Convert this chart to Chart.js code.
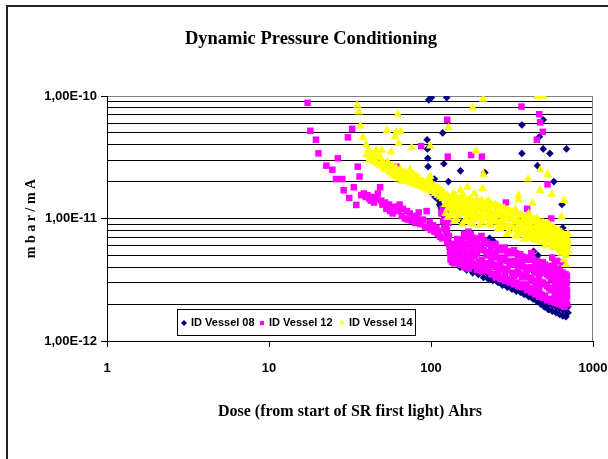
<!DOCTYPE html>
<html lang="en">
<head>
<meta charset="UTF-8" />
<title>Dynamic Pressure Conditioning</title>
<script src="https://cdn.jsdelivr.net/npm/chart.js"></script>
<style>
  html, body { margin: 0; padding: 0; background: #fff; }
  #wrap { position: relative; width: 608px; height: 459px; }
</style>
</head>
<body>
<div id="wrap"><canvas id="chart" width="608" height="459"></canvas></div>
<script>
// tick values and labels
const xTicks = [1, 10, 100, 1000];
const xTickLabels = ["1", "10", "100", "1000"];
const yTicks = [
  1e-12, 2e-12, 3e-12, 4e-12, 5e-12, 6e-12, 7e-12, 8e-12, 9e-12,
  1e-11, 2e-11, 3e-11, 4e-11, 5e-11, 6e-11, 7e-11, 8e-11, 9e-11,
  1e-10
];
const yMajor = [1e-12, 1e-11, 1e-10];
const yMajorLabels = ["1,00E-12", "1,00E-11", "1,00E-10"];

const seriesNames = ["ID Vessel 08", "ID Vessel 12", "ID Vessel 14"];

// [dose Ahrs, mbar/mA]
const vessel08 = [
  [96.8, 9.3e-11], [100.5, 9.7e-11], [125, 9.7e-11], [94.6, 4.4e-11], [95, 3.7e-11],
  [95.5, 3.1e-11], [96, 2.65e-11], [118, 5.0e-11], [105, 2.1e-11], [120, 2.8e-11],
  [152, 2.45e-11], [128, 2.0e-11], [215, 2.37e-11], [364, 5.8e-11], [364, 3.4e-11],
  [454, 2.7e-11], [467, 4.65e-11], [493, 6.4e-11], [493, 3.7e-11], [542, 3.4e-11],
  [686, 3.7e-11], [573, 2.0e-11], [643, 1.3e-11], [650, 8.4e-12], [397, 1.02e-11],
  [241, 6.6e-12], [155, 9.3e-12], [457, 5.0e-12], [230, 6.9e-12], [430, 5.4e-12],
  [420, 3.8e-12], [140, 5.5e-12], [175, 7.7e-12],
  [102, 1.6e-11], [104, 1.75e-11], [106, 1.5e-11], [108, 1.7e-11], [110, 1.5e-11],
  [112, 1.4e-11], [113, 1.3e-11], [115, 1.25e-11], [116, 1.2e-11], [117, 1.15e-11],
  [118, 1.1e-11], [120, 1.05e-11], [121, 1.0e-11], [122, 9.2e-12], [123, 8.5e-12],
  [124, 7.8e-12], [125, 7.2e-12], [127, 6.6e-12], [129, 6.0e-12], [131, 5.6e-12],
  [134, 5.2e-12], [137, 5.0e-12], [142, 4.8e-12], [148, 4.6e-12],
  [150, 4.3e-12], [151, 4.0e-12], [165, 4.1e-12], [166, 3.8e-12], [180, 3.9e-12],
  [181, 3.6e-12], [195, 3.8e-12], [196, 3.5e-12], [210, 3.6e-12], [211, 3.3e-12],
  [225, 3.5e-12], [226, 3.2e-12], [240, 3.4e-12], [241, 3.1e-12], [258, 3.2e-12],
  [259, 3.0e-12], [275, 3.1e-12], [276, 2.85e-12], [295, 3.0e-12], [296, 2.75e-12],
  [315, 2.9e-12], [316, 2.65e-12], [335, 2.8e-12], [336, 2.55e-12], [355, 2.7e-12],
  [356, 2.5e-12], [375, 2.6e-12], [376, 2.4e-12], [400, 2.5e-12], [401, 2.3e-12],
  [425, 2.4e-12], [426, 2.2e-12], [450, 2.3e-12], [451, 2.1e-12], [475, 2.2e-12],
  [476, 2.0e-12], [500, 2.1e-12], [501, 1.9e-12], [530, 2.0e-12], [531, 1.8e-12],
  [560, 1.95e-12], [561, 1.75e-12], [590, 1.9e-12], [591, 1.7e-12], [620, 1.85e-12],
  [621, 1.65e-12], [650, 1.8e-12], [651, 1.6e-12], [680, 1.75e-12], [681, 1.58e-12],
  [700, 1.9e-12], [701, 1.7e-12]
];

const vessel12 = [
  [17.3, 8.8e-11], [18.0, 5.2e-11], [19.5, 4.4e-11], [20.2, 3.4e-11], [22.6, 2.7e-11],
  [24.6, 2.5e-11], [25.9, 2.1e-11], [26.6, 3.1e-11], [28.3, 2.1e-11], [28.9, 1.7e-11],
  [30.7, 4.6e-11], [31.3, 1.47e-11], [32.6, 5.4e-11], [33.4, 1.8e-11], [34.6, 1.29e-11],
  [35.3, 2.65e-11], [36.2, 2.2e-11], [37.1, 1.55e-11],
  [38.5, 1.6e-11], [39.5, 1.5e-11], [40.5, 1.55e-11], [41.5, 1.45e-11], [42.5, 1.4e-11],
  [43.5, 1.5e-11], [44.5, 1.35e-11], [46, 1.45e-11], [47, 1.6e-11], [48.5, 1.8e-11],
  [49.3, 1.4e-11], [50.2, 1.3e-11], [52, 1.35e-11], [53, 1.2e-11], [55, 1.3e-11],
  [56, 1.15e-11], [58, 1.1e-11], [59, 1.25e-11], [61, 2.65e-11], [63, 1.15e-11],
  [64, 1.3e-11], [66, 1.05e-11], [67, 1.2e-11], [69, 1.0e-11], [71, 1.15e-11],
  [72, 9.8e-12], [74, 1.1e-11], [76, 9.6e-12], [78, 1.05e-11], [80, 9.2e-12],
  [82, 1.0e-11], [84, 1.12e-11], [86, 9.0e-12], [87, 3.9e-11], [89, 9.8e-12],
  [92, 8.6e-12], [94, 1.15e-11], [96, 8.4e-12], [98, 9.4e-12], [100, 8.1e-12],
  [103, 8.8e-12], [105, 7.8e-12], [108, 8.4e-12], [110, 7.5e-12], [112, 7.9e-12],
  [114, 7.1e-12], [116, 1.1e-11], [117, 6.9e-12], [118, 1.2e-11], [119, 9.5e-12],
  [121, 8.4e-12], [122, 7.0e-12], [124, 1.05e-11], [125, 8.0e-12], [126, 6.4e-12],
  [127, 1.15e-11], [128, 9.2e-12], [129, 7.2e-12], [130, 6.0e-12],
  [126, 6.4e-11], [127, 3.2e-11], [177, 3.3e-11], [206, 3.2e-11], [362, 8.2e-11],
  [466, 7.1e-11], [472, 6.1e-11], [490, 5.1e-11], [450, 4.4e-11], [524, 1.9e-11],
  [290, 1.35e-11], [392, 1.2e-11], [552, 1.0e-11], [643, 4.4e-12], [420, 5.2e-12],
  [131, 5.2e-12], [132, 4.6e-12], [138, 6.2e-12], [138, 4.8e-12], [139, 4.3e-12],
  [145, 6.8e-12], [145, 5.5e-12], [146, 4.4e-12], [152, 6.0e-12], [152, 5.0e-12],
  [153, 4.2e-12], [160, 7.5e-12], [160, 5.6e-12], [161, 4.5e-12], [161, 4.0e-12],
  [170, 7.8e-12], [170, 6.2e-12], [171, 5.0e-12], [171, 3.9e-12], [180, 7.0e-12],
  [180, 5.6e-12], [181, 4.3e-12], [192, 6.5e-12], [192, 5.2e-12], [193, 3.8e-12],
  [205, 7.2e-12], [205, 6.0e-12], [206, 4.6e-12], [206, 3.7e-12], [220, 6.4e-12],
  [220, 5.0e-12], [221, 3.9e-12], [235, 5.8e-12], [235, 4.6e-12], [236, 3.5e-12],
  [250, 6.2e-12], [250, 5.2e-12], [251, 4.0e-12], [251, 3.3e-12], [268, 5.5e-12],
  [268, 4.3e-12], [269, 3.2e-12], [285, 5.8e-12], [285, 4.8e-12], [286, 3.6e-12],
  [286, 3.1e-12], [305, 5.2e-12], [305, 4.2e-12], [306, 3.0e-12], [325, 5.5e-12],
  [325, 4.5e-12], [326, 3.4e-12], [326, 2.9e-12], [345, 5.0e-12], [345, 3.9e-12],
  [346, 2.8e-12], [365, 4.9e-12], [365, 4.2e-12], [366, 3.3e-12], [366, 2.75e-12],
  [390, 4.6e-12], [390, 3.7e-12], [391, 2.9e-12], [391, 2.6e-12], [415, 5.2e-12],
  [415, 4.0e-12], [416, 3.2e-12], [416, 2.5e-12], [440, 4.3e-12], [440, 3.6e-12],
  [441, 2.8e-12], [441, 2.4e-12], [465, 4.1e-12], [465, 3.4e-12], [466, 2.7e-12],
  [466, 2.3e-12], [490, 4.4e-12], [490, 3.8e-12], [491, 3.0e-12], [491, 2.25e-12],
  [520, 4.0e-12], [520, 3.5e-12], [521, 2.8e-12], [521, 2.15e-12], [550, 3.8e-12],
  [550, 3.2e-12], [551, 2.6e-12], [551, 2.1e-12], [560, 4.8e-12], [580, 4.4e-12],
  [580, 3.6e-12], [581, 3.0e-12], [581, 2.4e-12], [582, 2.05e-12], [600, 4.5e-12],
  [610, 3.9e-12], [610, 3.4e-12], [611, 2.8e-12], [611, 2.3e-12], [612, 2.0e-12],
  [640, 3.6e-12], [640, 3.2e-12], [641, 2.7e-12], [641, 2.2e-12], [642, 1.95e-12],
  [665, 3.5e-12], [665, 3.0e-12], [666, 2.6e-12], [666, 2.2e-12], [667, 1.9e-12],
  [690, 3.4e-12], [690, 3.0e-12], [691, 2.6e-12], [691, 2.3e-12], [692, 2.0e-12],
  [134, 5.5e-12], [134, 4.9e-12], [135, 4.4e-12], [142, 6.0e-12], [142, 5.2e-12],
  [143, 4.6e-12], [149, 6.4e-12], [149, 5.3e-12], [150, 4.7e-12], [156, 6.6e-12],
  [156, 5.8e-12], [157, 4.8e-12], [165, 7.0e-12], [165, 6.0e-12], [166, 5.2e-12],
  [166, 4.3e-12], [175, 7.4e-12], [175, 6.5e-12], [176, 5.4e-12], [176, 4.6e-12],
  [186, 6.8e-12], [186, 6.0e-12], [187, 4.9e-12], [187, 4.1e-12], [198, 6.9e-12],
  [198, 5.6e-12], [199, 4.4e-12], [199, 4.0e-12], [212, 6.6e-12], [212, 5.5e-12],
  [213, 4.3e-12], [213, 3.8e-12], [228, 6.2e-12], [228, 5.3e-12], [229, 4.3e-12],
  [229, 3.7e-12], [243, 6.0e-12], [243, 4.9e-12], [244, 4.2e-12], [244, 3.5e-12],
  [259, 5.8e-12], [259, 4.8e-12], [260, 3.8e-12], [260, 3.4e-12], [276, 5.6e-12],
  [276, 4.6e-12], [277, 3.9e-12], [277, 3.3e-12], [295, 5.4e-12], [295, 4.5e-12],
  [296, 3.8e-12], [296, 3.2e-12], [315, 5.3e-12], [315, 4.4e-12], [316, 3.6e-12],
  [316, 3.1e-12], [335, 5.2e-12], [335, 4.2e-12], [336, 3.6e-12], [336, 3.0e-12],
  [355, 5.1e-12], [355, 4.4e-12], [356, 3.5e-12], [356, 2.9e-12], [378, 4.8e-12],
  [378, 4.0e-12], [379, 3.4e-12], [379, 2.8e-12], [402, 4.7e-12], [402, 3.9e-12],
  [403, 3.3e-12], [403, 2.7e-12], [428, 4.6e-12], [428, 3.9e-12], [429, 3.1e-12],
  [429, 2.6e-12], [452, 4.5e-12], [452, 3.8e-12], [453, 3.1e-12], [453, 2.5e-12],
  [478, 4.3e-12], [478, 3.6e-12], [479, 3.0e-12], [479, 2.4e-12], [505, 4.2e-12],
  [505, 3.6e-12], [506, 2.9e-12], [506, 2.35e-12], [535, 4.1e-12], [535, 3.4e-12],
  [536, 2.7e-12], [536, 2.2e-12], [565, 4.0e-12], [565, 3.3e-12], [566, 2.7e-12],
  [566, 2.2e-12], [595, 3.8e-12], [595, 3.2e-12], [596, 2.6e-12], [596, 2.15e-12],
  [625, 3.7e-12], [625, 3.0e-12], [626, 2.5e-12], [626, 2.1e-12], [652, 3.6e-12],
  [652, 2.9e-12], [653, 2.4e-12], [653, 2.05e-12], [678, 3.5e-12], [678, 2.9e-12],
  [679, 2.4e-12], [679, 2.05e-12]
];

const vessel14 = [
  [35.0, 8.4e-11], [35.8, 7.4e-11], [36.7, 5.7e-11], [38.0, 4.6e-11], [39.8, 4.0e-11],
  [41, 3.6e-11], [43.7, 3.1e-11], [45.9, 3.6e-11], [49.7, 3.6e-11], [53.6, 5.2e-11],
  [56.8, 3.5e-11], [60, 4.65e-11], [61, 5.1e-11], [62.4, 7.1e-11], [63.2, 4.1e-11],
  [64.8, 5.1e-11], [76, 3.8e-11], [99, 3.9e-11], [128, 5.5e-11], [181, 8.0e-11],
  [190, 3.56e-11], [210, 9.4e-11], [211, 2.3e-11], [454, 9.9e-11], [493, 1.0e-10],
  [472, 2.5e-11], [524, 2.3e-11], [397, 2.1e-11], [472, 1.7e-11], [557, 1.58e-11],
  [664, 1.4e-11], [346, 1.55e-11], [346, 1.42e-11], [152, 1.7e-11], [168, 1.8e-11],
  [208, 1.76e-11], [423, 1.33e-11], [640, 1.03e-11],
  [40, 3.3e-11], [41.5, 3.0e-11], [42.5, 3.2e-11], [44, 2.9e-11], [45, 3.0e-11],
  [46.5, 2.8e-11], [47.5, 3.3e-11], [48.5, 2.7e-11], [50, 2.9e-11], [51, 2.6e-11],
  [52, 2.5e-11], [53.5, 2.7e-11], [55, 2.4e-11], [56, 2.6e-11], [57.5, 2.3e-11],
  [59, 2.5e-11], [60, 2.2e-11], [62, 2.4e-11], [63, 2.1e-11], [64.5, 2.3e-11],
  [66, 2.0e-11], [67.5, 2.2e-11], [69, 2.4e-11], [70, 2.0e-11], [72, 2.1e-11],
  [73, 2.3e-11], [75, 1.95e-11], [77, 2.1e-11], [79, 1.9e-11], [80, 2.0e-11],
  [82, 2.2e-11], [84, 1.85e-11], [86, 1.9e-11], [88, 1.8e-11], [90, 2.0e-11],
  [92, 1.75e-11], [95, 1.85e-11], [97, 1.7e-11], [99, 2.2e-11], [100, 1.8e-11],
  [102, 1.65e-11], [104, 1.75e-11], [106, 1.6e-11], [108, 1.7e-11], [110, 1.55e-11],
  [112, 1.65e-11], [114, 1.5e-11], [116, 1.6e-11], [118, 1.45e-11], [120, 1.55e-11],
  [43, 3.4e-11], [45.5, 3.2e-11], [49, 3.1e-11], [51.5, 2.8e-11], [54, 2.9e-11],
  [58, 2.7e-11], [61, 2.6e-11], [65, 2.5e-11], [68, 2.3e-11], [71, 2.2e-11],
  [74, 2.5e-11], [78, 2.3e-11], [81, 2.1e-11], [85, 2.1e-11], [89, 2.0e-11],
  [93, 1.95e-11], [96, 2.05e-11], [101, 1.95e-11], [105, 1.85e-11], [109, 1.8e-11],
  [113, 1.75e-11], [117, 1.7e-11],
  [122, 1.5e-11], [122, 1.3e-11], [123, 1.1e-11], [130, 1.45e-11], [130, 1.25e-11],
  [131, 1.05e-11], [138, 1.6e-11], [138, 1.35e-11], [139, 1.15e-11], [139, 9.5e-12],
  [146, 1.4e-11], [146, 1.2e-11], [147, 1.05e-11], [155, 1.5e-11], [155, 1.3e-11],
  [156, 1.1e-11], [156, 9.0e-12], [165, 1.35e-11], [165, 1.15e-11], [166, 1.0e-11],
  [175, 1.45e-11], [175, 1.25e-11], [176, 1.08e-11], [176, 9.2e-12], [185, 1.6e-11],
  [185, 1.3e-11], [186, 1.12e-11], [186, 9.8e-12], [198, 1.35e-11], [198, 1.18e-11],
  [199, 1.02e-11], [199, 8.8e-12], [212, 1.3e-11], [212, 1.15e-11], [213, 1.0e-11],
  [226, 1.4e-11], [226, 1.22e-11], [227, 1.06e-11], [227, 9.0e-12], [242, 1.28e-11],
  [242, 1.1e-11], [243, 9.5e-12], [258, 1.25e-11], [258, 1.08e-11], [259, 9.3e-12],
  [259, 8.2e-12], [275, 1.2e-11], [275, 1.05e-11], [276, 9.0e-12], [292, 1.15e-11],
  [292, 1.0e-11], [293, 8.6e-12], [293, 7.4e-12], [312, 1.12e-11], [312, 9.8e-12],
  [313, 8.4e-12], [332, 1.18e-11], [332, 9.5e-12], [333, 8.2e-12], [333, 7.2e-12],
  [352, 1.05e-11], [352, 9.2e-12], [353, 8.0e-12], [375, 1.0e-11], [375, 8.8e-12],
  [376, 7.6e-12], [376, 6.8e-12], [400, 1.1e-11], [400, 9.0e-12], [401, 7.8e-12],
  [401, 6.9e-12], [425, 9.5e-12], [425, 8.3e-12], [426, 7.2e-12], [450, 1.0e-11],
  [450, 8.6e-12], [451, 7.5e-12], [451, 6.6e-12], [478, 9.2e-12], [478, 8.0e-12],
  [479, 7.0e-12], [505, 8.8e-12], [505, 7.8e-12], [506, 6.8e-12], [506, 6.0e-12],
  [535, 9.0e-12], [535, 7.6e-12], [536, 6.6e-12], [565, 8.4e-12], [565, 7.3e-12],
  [566, 6.4e-12], [566, 5.8e-12], [595, 8.0e-12], [595, 7.0e-12], [596, 6.2e-12],
  [625, 7.8e-12], [625, 6.8e-12], [626, 6.0e-12], [626, 5.5e-12], [655, 7.4e-12],
  [655, 6.5e-12], [656, 5.8e-12], [680, 7.0e-12], [680, 6.2e-12], [681, 5.6e-12],
  [681, 5.0e-12], [700, 7.5e-12], [700, 6.6e-12], [701, 6.0e-12], [701, 5.4e-12],
  [683, 4.2e-12], [660, 4.6e-12], [640, 5.2e-12],
  [126, 1.55e-11], [126, 1.38e-11], [127, 1.2e-11], [127, 1.02e-11], [134, 1.5e-11],
  [134, 1.32e-11], [135, 1.15e-11], [142, 1.52e-11], [142, 1.28e-11], [143, 1.1e-11],
  [143, 9.8e-12], [150, 1.45e-11], [150, 1.25e-11], [151, 1.15e-11], [160, 1.5e-11],
  [160, 1.28e-11], [161, 1.12e-11], [161, 9.6e-12], [170, 1.42e-11], [170, 1.22e-11],
  [171, 1.05e-11], [180, 1.38e-11], [180, 1.2e-11], [181, 1.0e-11], [181, 9.0e-12],
  [191, 1.42e-11], [191, 1.22e-11], [192, 1.06e-11], [205, 1.4e-11], [205, 1.2e-11],
  [206, 1.05e-11], [206, 9.3e-12], [219, 1.35e-11], [219, 1.18e-11], [220, 1.02e-11],
  [234, 1.32e-11], [234, 1.14e-11], [235, 9.8e-12], [235, 8.8e-12], [250, 1.3e-11],
  [250, 1.12e-11], [251, 9.7e-12], [266, 1.24e-11], [266, 1.06e-11], [267, 9.2e-12],
  [267, 8.2e-12], [283, 1.22e-11], [283, 1.04e-11], [284, 8.9e-12], [302, 1.18e-11],
  [302, 1.01e-11], [303, 8.7e-12], [303, 7.8e-12], [322, 1.14e-11], [322, 9.8e-12],
  [323, 8.5e-12], [342, 1.1e-11], [342, 9.5e-12], [343, 8.2e-12], [343, 7.3e-12],
  [363, 1.08e-11], [363, 9.3e-12], [364, 8.0e-12], [387, 1.04e-11], [387, 9.0e-12],
  [388, 7.8e-12], [388, 7.0e-12], [412, 1.02e-11], [412, 8.8e-12], [413, 7.6e-12],
  [437, 9.8e-12], [437, 8.5e-12], [438, 7.4e-12], [438, 6.7e-12], [464, 9.6e-12],
  [464, 8.3e-12], [465, 7.2e-12], [491, 9.3e-12], [491, 8.1e-12], [492, 7.1e-12],
  [492, 6.4e-12], [520, 9.0e-12], [520, 7.8e-12], [521, 6.9e-12], [550, 8.7e-12],
  [550, 7.6e-12], [551, 6.7e-12], [551, 6.1e-12], [580, 8.3e-12], [580, 7.3e-12],
  [581, 6.5e-12], [610, 8.0e-12], [610, 7.0e-12], [611, 6.2e-12], [611, 5.7e-12],
  [640, 7.7e-12], [640, 6.7e-12], [641, 6.0e-12], [668, 7.3e-12], [668, 6.4e-12],
  [669, 5.8e-12], [669, 5.2e-12], [690, 7.0e-12], [690, 6.2e-12], [691, 5.6e-12]
];

const colors = ["#000080", "#ff00ff", "#ffff00"];
const styles = ["rectRot", "rect", "triangle"];
const radii = [3.8, 4.6, 5];

function toPoints(arr) {
  return arr.map(p => ({ x: p[0], y: p[1] }));
}

function isMajorY(v) {
  return yMajor.findIndex(m => Math.abs(m - v) < m * 1e-6);
}

// white background, outer frame, right border of plot, legend box
const decorations = {
  id: "decorations",
  beforeDraw(chart) {
    const c = chart.ctx;
    c.save();
    c.fillStyle = "#fff";
    c.fillRect(0, 0, chart.width, chart.height);
    c.strokeStyle = "#222";
    c.lineWidth = 2;
    c.beginPath();
    c.moveTo(7, chart.height);
    c.lineTo(7, 6);
    c.lineTo(chart.width, 6);
    c.stroke();
    c.restore();
  },
  beforeDatasetsDraw(chart) {
    const a = chart.chartArea;
    const c = chart.ctx;
    c.save();
    c.strokeStyle = "#808080";
    c.lineWidth = 1;
    c.beginPath();
    c.moveTo(Math.round(a.right) - 0.5, a.top);
    c.lineTo(Math.round(a.right) - 0.5, a.bottom);
    c.stroke();
    c.restore();
  },
  afterDatasetsDraw(chart) {
    const c = chart.ctx;
    c.save();
    c.fillStyle = "#fff";
    c.fillRect(177, 309, 238, 26);
    c.strokeStyle = "#000";
    c.lineWidth = 1;
    c.strokeRect(177.5, 309.5, 238, 26);
    const markX = [184, 262, 342];
    c.font = "bold 11px 'Liberation Sans', Arial, sans-serif";
    c.textBaseline = "middle";
    for (let i = 0; i < 3; i++) {
      c.fillStyle = colors[i];
      c.strokeStyle = colors[i];
      Chart.helpers.drawPoint(c, { pointStyle: styles[i], radius: 3, rotation: 0, borderWidth: 0 }, markX[i], 323);
      c.fillStyle = "#000";
      c.fillText(seriesNames[i], markX[i] + 7, 323);
    }
    c.restore();
  }
};

const datasets = [vessel08, vessel12, vessel14].map((arr, i) => ({
  label: seriesNames[i],
  data: toPoints(arr),
  pointStyle: styles[i],
  pointRadius: radii[i],
  pointBackgroundColor: colors[i],
  pointBorderColor: colors[i],
  pointBorderWidth: 0,
  showLine: false,
  order: 2 - i
}));

new Chart(document.getElementById("chart"), {
  type: "scatter",
  data: { datasets },
  options: {
    responsive: false,
    animation: false,
    layout: { padding: { left: 14, right: 0, top: 0, bottom: 0 } },
    plugins: {
      legend: { display: false },
      tooltip: { enabled: false },
      title: {
        display: true,
        text: "Dynamic Pressure Conditioning",
        color: "#000",
        font: { family: "'Liberation Serif', 'Times New Roman', serif", size: 18.5, weight: "bold" },
        padding: { top: 28, bottom: 45.8 }
      }
    },
    scales: {
      x: {
        type: "logarithmic",
        min: 1,
        max: 1000,
        afterBuildTicks: s => { s.ticks = xTicks.map(v => ({ value: v })); },
        afterFit: s => {
          s.height = 118;
          s.paddingLeft = 4;
          s.paddingRight = 15;
        },
        ticks: {
          autoSkip: false,
          maxRotation: 0,
          padding: 14,
          color: "#000",
          font: { family: "'Liberation Sans', Arial, sans-serif", size: 13, weight: "bold" },
          callback: (v, i) => xTickLabels[i]
        },
        grid: { drawOnChartArea: false, drawTicks: true, tickLength: 6, color: "#000" },
        border: { color: "#000", width: 1 },
        title: {
          display: true,
          text: "Dose (from start of SR first light) Ahrs",
          color: "#000",
          font: { family: "'Liberation Serif', 'Times New Roman', serif", size: 16, weight: "bold" },
          padding: { top: 38, bottom: 38 }
        }
      },
      y: {
        type: "logarithmic",
        min: 1e-12,
        max: 1e-10,
        afterBuildTicks: s => { s.ticks = yTicks.map(v => ({ value: v })); },
        afterFit: s => { s.width = 93; },
        ticks: {
          autoSkip: false,
          padding: 4,
          color: "#000",
          font: { family: "'Liberation Sans', Arial, sans-serif", size: 13, weight: "bold" },
          callback: v => {
            const k = isMajorY(v);
            return k >= 0 ? yMajorLabels[k] : "";
          }
        },
        grid: {
          lineWidth: 1,
          tickLength: 6,
          color: ctx => (ctx.tick && ctx.tick.value > 9.9e-11 ? "#808080" : "#000"),
          tickColor: ctx => (ctx.tick && isMajorY(ctx.tick.value) >= 0 ? "#000" : "rgba(0,0,0,0)")
        },
        border: { color: "#000", width: 1 },
        title: {
          display: true,
          text: "m b a r / m A",
          color: "#000",
          font: { family: "'Liberation Serif', 'Times New Roman', serif", size: 14, weight: "bold" },
          padding: { top: 9, bottom: 9 }
        }
      }
    }
  },
  plugins: [decorations]
});
</script>
</body>
</html>
